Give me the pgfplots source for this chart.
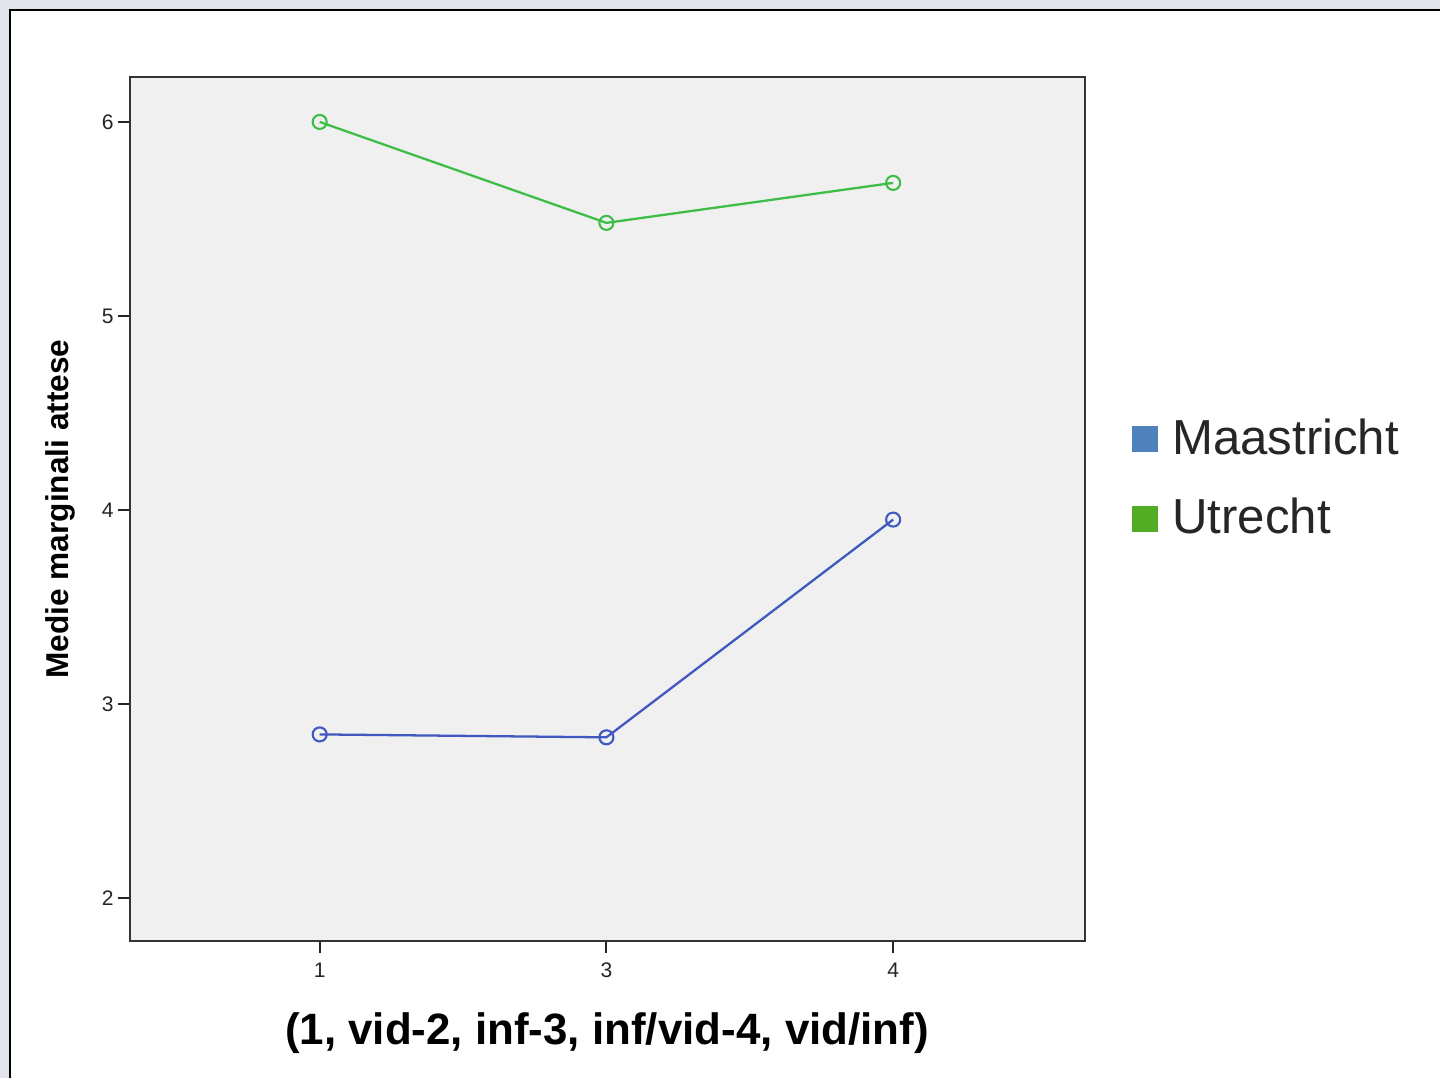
\documentclass[border=0pt]{standalone}
\usepackage{fontspec}
\setmainfont{Liberation Sans}
\usepackage{pgfplots}
\pgfplotsset{compat=1.18}
\definecolor{plotbg}{RGB}{240,240,240}
\definecolor{lineGreen}{RGB}{62,190,70}
\definecolor{lineBlue}{RGB}{64,88,192}
\definecolor{legBlue}{RGB}{79,129,189}
\definecolor{legGreen}{RGB}{82,172,36}
\definecolor{outerbg}{RGB}{226,230,236}

\begin{document}
\begin{tikzpicture}
% window frame (0.1mm = 1 px of the reference)
\fill[outerbg] (0mm,0mm) rectangle (144.1mm,107.9mm);
\fill[white] (1mm,0mm) rectangle (144.1mm,106.9mm);
\draw[black, line width=0.8pt] (1mm,0mm) -- (1mm,106.9mm) -- (144.1mm,106.9mm);
\useasboundingbox (0mm,0mm) rectangle (144.1mm,107.9mm);

\begin{axis}[
    at={(13mm,13.7mm)}, anchor=south west,
    scale only axis,
    width=95.6mm, height=86.5mm,
    xmin=-0.662, xmax=2.669,
    ymin=1.779, ymax=6.232,
    xtick={0,1,2}, xticklabels={1,3,4},
    ytick={2,3,4,5,6},
    xtick pos=bottom, ytick pos=left,
    tick align=outside,
    major tick length=1.2mm,
    tick style={black!85, line width=0.6pt},
    axis line style={black!80, line width=0.7pt},
    axis background/.style={fill=plotbg},
    /pgf/number format/assume math mode=true,
    ticklabel style={font=\fontsize{6}{7}\selectfont, text=black!85},
    yticklabel style={inner sep=1pt},
    xticklabel style={inner sep=2.5pt},
    xlabel={\textbf{(1, vid-2, inf-3, inf/vid-4, vid/inf)}},
    xlabel style={font=\fontsize{12.5}{14}\selectfont, at={(axis description cs:0.4995,-0.1064)}, anchor=center},
    ylabel={\textbf{Medie marginali attese}},
    ylabel style={font=\fontsize{9}{10}\selectfont, at={(axis description cs:-0.0732,0.5)}, anchor=center},
    legend style={draw=none, fill=none, at={(axis description cs:1.048,0.535)}, anchor=west,
        font=\fontsize{14}{16}\selectfont, text=black!85, row sep=7pt, inner sep=0pt,
        /tikz/every odd column/.append style={column sep=2.2pt}},
    legend cell align=left,
    legend image code/.code={\fill[#1] (0pt,-3.7pt) rectangle (7.4pt,3.7pt);},
]
\addlegendimage{fill=legBlue, draw=none}
\addlegendentry{Maastricht}
\addlegendimage{fill=legGreen, draw=none}
\addlegendentry{Utrecht}

% Maastricht
\addplot[lineBlue, line width=0.65pt, mark=o, mark size=2pt, mark options={line width=0.6pt}, forget plot]
coordinates {(0,2.844) (1,2.829) (2,3.951)};
% Utrecht
\addplot[lineGreen, line width=0.65pt, mark=o, mark size=2pt, mark options={line width=0.6pt}, forget plot]
coordinates {(0,6.0) (1,5.480) (2,5.686)};
\end{axis}
\end{tikzpicture}
\end{document}
